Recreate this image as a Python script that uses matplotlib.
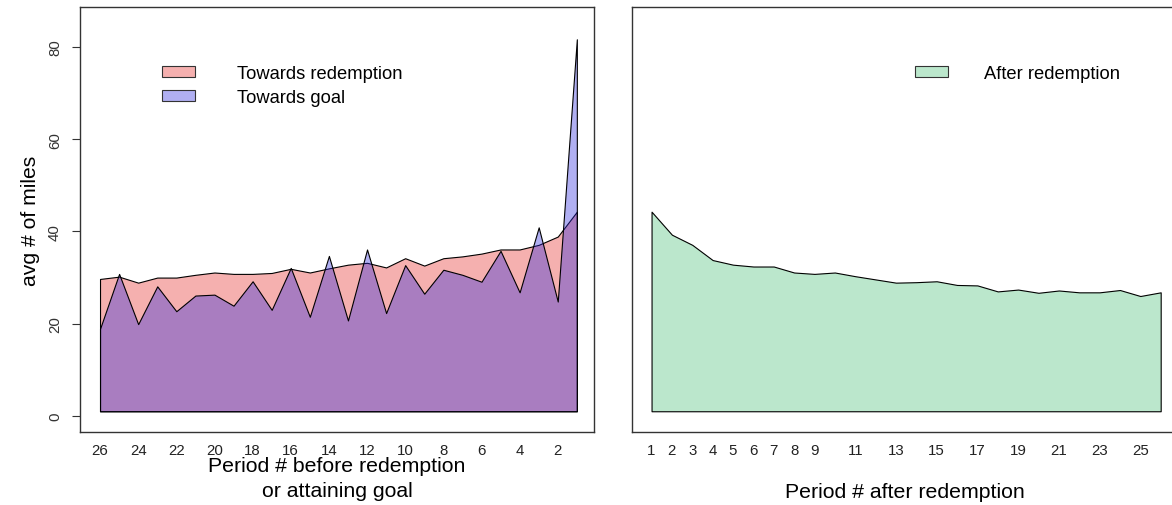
import matplotlib
matplotlib.use('Agg')
import matplotlib.pyplot as plt
from matplotlib.patches import Patch
import numpy as np

plt.rcParams['font.family'] = ['Liberation Sans', 'DejaVu Sans']

# periods counted back from redemption (26 .. 1)
periods_before = list(range(26, 0, -1))
towards_redemption = [29.7, 30.2, 28.9, 30.0, 30.0, 30.6, 31.1, 30.8, 30.8, 31.0,
                      31.9, 31.1, 32.0, 32.8, 33.2, 32.2, 34.2, 32.6, 34.2, 34.6,
                      35.2, 36.1, 36.1, 37.1, 38.9, 44.3]
towards_goal = [18.9, 30.8, 19.9, 28.1, 22.7, 26.1, 26.3, 23.9, 29.2, 23.0,
                32.1, 21.5, 34.7, 20.7, 36.1, 22.3, 32.7, 26.5, 31.7, 30.6,
                29.1, 35.8, 26.8, 40.9, 24.8, 81.7]
before_ticks = list(range(26, 1, -2))

# periods after redemption (1 .. 26)
periods_after = list(range(1, 27))
after_redemption = [44.3, 39.3, 37.1, 33.8, 32.8, 32.4, 32.4, 31.1, 30.8, 31.1,
                    30.3, 29.6, 28.9, 29.0, 29.2, 28.4, 28.3, 27.0, 27.4, 26.7,
                    27.2, 26.8, 26.8, 27.3, 26.0, 26.8]
after_ticks = [1, 2, 3, 4, 5, 6, 7, 8, 9, 11, 13, 15, 17, 19, 21, 23, 25]

baseline = 1.0
y_ticks = [0, 20, 40, 60, 80]

pink = '#F5B0AF'
blue = (41/255, 39/255, 222/255, 0.37)
green = '#BBE7CC'

W, H = 1172, 506
fig = plt.figure(figsize=(W/100, H/100), dpi=100)
ax1 = fig.add_axes([80/W, 73/H, (594-80)/W, 425/H])
ax2 = fig.add_axes([632/W, 73/H, (1178-632)/W, 425/H])

for ax in (ax1, ax2):
    ax.set_ylim(-3.5, 88.7)
    for s in ax.spines.values():
        s.set_color('#333333')
        s.set_linewidth(1.0)
    ax.tick_params(axis='x', length=0, pad=8, labelsize=10.8, colors='#222222')

leg_kw = dict(loc='upper left', frameon=False, fontsize=13.2, handlelength=1.8,
              handleheight=0.55, labelspacing=0.37, borderpad=0, borderaxespad=0)

# left panel
ax1.fill_between(periods_before, baseline, towards_redemption, facecolor=pink,
                 edgecolor='black', linewidth=0.8)
ax1.fill_between(periods_before, baseline, towards_goal, facecolor=blue,
                 edgecolor='black', linewidth=0.8)
ax1.set_xlim(27.05, 0.1)
ax1.set_xticks(before_ticks)
ax1.set_xticklabels([str(t) for t in before_ticks])
ax1.set_yticks(y_ticks)
ax1.set_yticklabels([str(t) for t in y_ticks], rotation=90, va='center')
ax1.tick_params(axis='y', length=6, width=0.8, pad=7, labelsize=10.8, colors='#333333')
ax1.set_ylabel('avg # of miles', fontsize=15.2, labelpad=6)
ax1.set_xlabel('Period # before redemption\nor attaining goal', fontsize=15.3,
               labelpad=-1, linespacing=1.42)
ax1.legend(handles=[Patch(facecolor=pink, edgecolor='#333333', linewidth=0.8),
                    Patch(facecolor=blue, edgecolor='#333333', linewidth=0.8)],
           labels=['Towards redemption', 'Towards goal'],
           bbox_to_anchor=(0.16, 0.863), handletextpad=2.3, **leg_kw)

# right panel
ax2.fill_between(periods_after, baseline, after_redemption, facecolor=green,
                 edgecolor='black', linewidth=0.8)
ax2.set_xlim(0.04, 26.85)
ax2.set_xticks(after_ticks)
ax2.set_xticklabels([str(t) for t in after_ticks])
ax2.set_yticks([])
ax2.set_xlabel('Period # after redemption', fontsize=15.3, labelpad=18)
ax2.legend(handles=[Patch(facecolor=green, edgecolor='#333333', linewidth=0.8)],
           labels=['After redemption'], bbox_to_anchor=(0.518, 0.863),
           handletextpad=2.0, **leg_kw)

fig.savefig('out.png', dpi=100)
